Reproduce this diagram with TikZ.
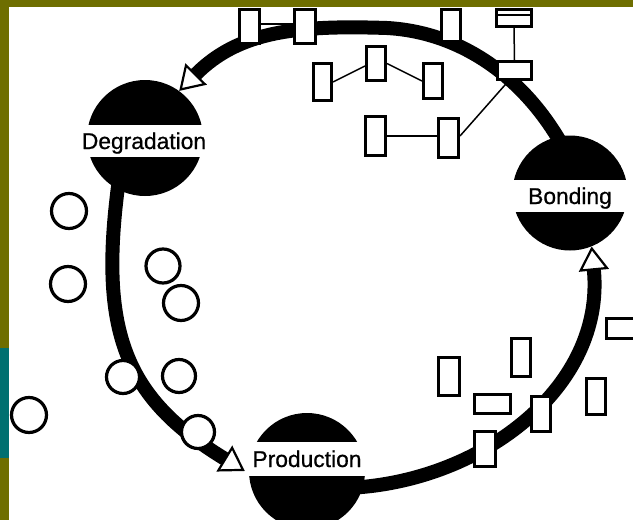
\documentclass[tikz,border=0pt]{standalone}
\usepackage{fontspec}
\setmainfont{Liberation Sans}
\newfontfamily\stagefont[FakeBold=0.7]{Liberation Sans}
\usetikzlibrary{arrows.meta,calc}
\definecolor{olivebar}{RGB}{110,110,0}
\definecolor{tealbar}{RGB}{0,112,112}
\pgfdeclarelayer{paper}
\pgfdeclarelayer{flow}
\pgfsetlayers{paper,flow,main}
\begin{document}
\begin{tikzpicture}[x=1pt,y=-1pt,
  ball/.style={circle,fill=black,inner sep=0pt,minimum size=116pt},
  band/.style={fill=white,inner sep=0pt,minimum width=116pt,minimum height=32pt,
    text height=16pt,text depth=0pt,font=\stagefont\fontsize{22.8}{24}\selectfont},
  flowline/.style={line width=14pt,
    -{Triangle[length=24pt,width=30pt,fill=white,line width=2.2pt]}},
  box/.style={draw,line width=3pt,fill=white,inner sep=0pt},
  link/.style={line width=1.5pt},
  bead/.style={circle,draw,line width=3.2pt,fill=white,inner sep=0pt,minimum size=34pt}
]
\useasboundingbox (0,0) rectangle (633,520);
\clip (0,0) rectangle (633,520);

% page frame
\begin{pgfonlayer}{paper}
  \fill[white] (0,0) rectangle (633,520);
  \fill[olivebar] (0,0) rectangle (633,7);
  \fill[olivebar] (0,0) rectangle (9,520);
  \fill[tealbar] (0,348) rectangle (9,458);
\end{pgfonlayer}

% the three stages
\node[ball] (deg) at (145,138) {};
\node[ball,minimum size=115pt] (bond) at (570,193) {};
\node[ball] (prod) at (307,471) {};
\node[band] (degl) at (144,141) {Degradation};
\node[band] (bondl) at (570,196) {Bonding};
\node[band,minimum height=34pt] (prodl) at (307,459) {Production};

% cycle arrows
\begin{pgfonlayer}{flow}
  \draw[flowline] ([shift={(5pt,-10pt)}]bond.102)
    .. controls (523,75) and (459,32) .. (387,28)
    .. controls (297,25) and (239,31) .. (deg.54);
  \draw[flowline] ([shift={(1.3pt,10pt)}]deg.242)
    .. controls (98,332) and (125,398) .. ([xshift=-4pt]prod.180);
  \draw[flowline] ([shift={(-10pt,-0.6pt)}]prod.-16)
    .. controls (484,480) and (605,386) .. (bond.-68);
\end{pgfonlayer}

% bonded units
\node[box,minimum width=20pt,minimum height=34pt] (r1) at (249.5,26.5) {};
\node[box,minimum width=21pt,minimum height=34pt] (r2) at (305,26.5) {};
\node[box,minimum width=19pt,minimum height=32pt] (r3) at (451,25.5) {};
\node[box,minimum width=35pt,minimum height=17pt] (r4) at (514,18) {};
\node[box,minimum width=34pt,minimum height=18pt] (r5) at (514.5,70.5) {};
\node[box,minimum width=18pt,minimum height=37pt] (m1) at (322.5,82) {};
\node[box,minimum width=19pt,minimum height=34pt] (m2) at (376,63.5) {};
\node[box,minimum width=19pt,minimum height=35pt] (m3) at (433,81) {};
\node[box,minimum width=20pt,minimum height=39pt] (p1) at (375.5,136) {};
\node[box,minimum width=20pt,minimum height=39pt] (p2) at (448.5,138) {};

\draw[line width=2pt] ([yshift=3pt]r4.west) -- ([yshift=3pt]r4.east);
\draw[link] ([yshift=2.5pt]r1.east) -- ([yshift=2.5pt]r2.west);
\draw[link] (r4.south) -- (r5.north);
\draw[link] (m1.east) -- ([yshift=-2.5pt]m2.west);
\draw[link] (m2.east) -- (m3.west);
\draw[link] (p1.east) -- (p1.east -| p2.west);
\draw[link] ([yshift=2pt]p2.east) -- ([xshift=-6pt]r5.south);

% freshly produced units
\node[box,minimum width=21pt,minimum height=38pt] (b1) at (449,376.5) {};
\node[box,minimum width=19pt,minimum height=38pt] (b2) at (521,357.5) {};
\node[box,minimum width=36pt,minimum height=19pt] (b3) at (492.5,404) {};
\node[box,minimum width=21pt,minimum height=35pt] (b4) at (485,449) {};
\node[box,minimum width=19pt,minimum height=35pt] (b5) at (541,414) {};
\node[box,minimum width=32pt,minimum height=20pt] (b6) at (622.5,328.5) {};
\node[box,minimum width=19pt,minimum height=36pt] (b7) at (596,396.5) {};

% degraded units
\node[bead,minimum size=35pt] (o1) at (69,211) {};
\node[bead,minimum size=35pt] (o2) at (68,284) {};
\node[bead] (o3) at (163,266) {};
\node[bead,minimum size=35pt] (o4) at (181,303) {};
\node[bead,minimum size=33pt] (o5) at (123,377) {};
\node[bead,minimum size=33pt] (o6) at (179,376) {};
\node[bead,minimum size=35pt] (o7) at (29,415) {};
\node[bead,minimum size=33pt] (o8) at (198,432) {};
\end{tikzpicture}
\end{document}
